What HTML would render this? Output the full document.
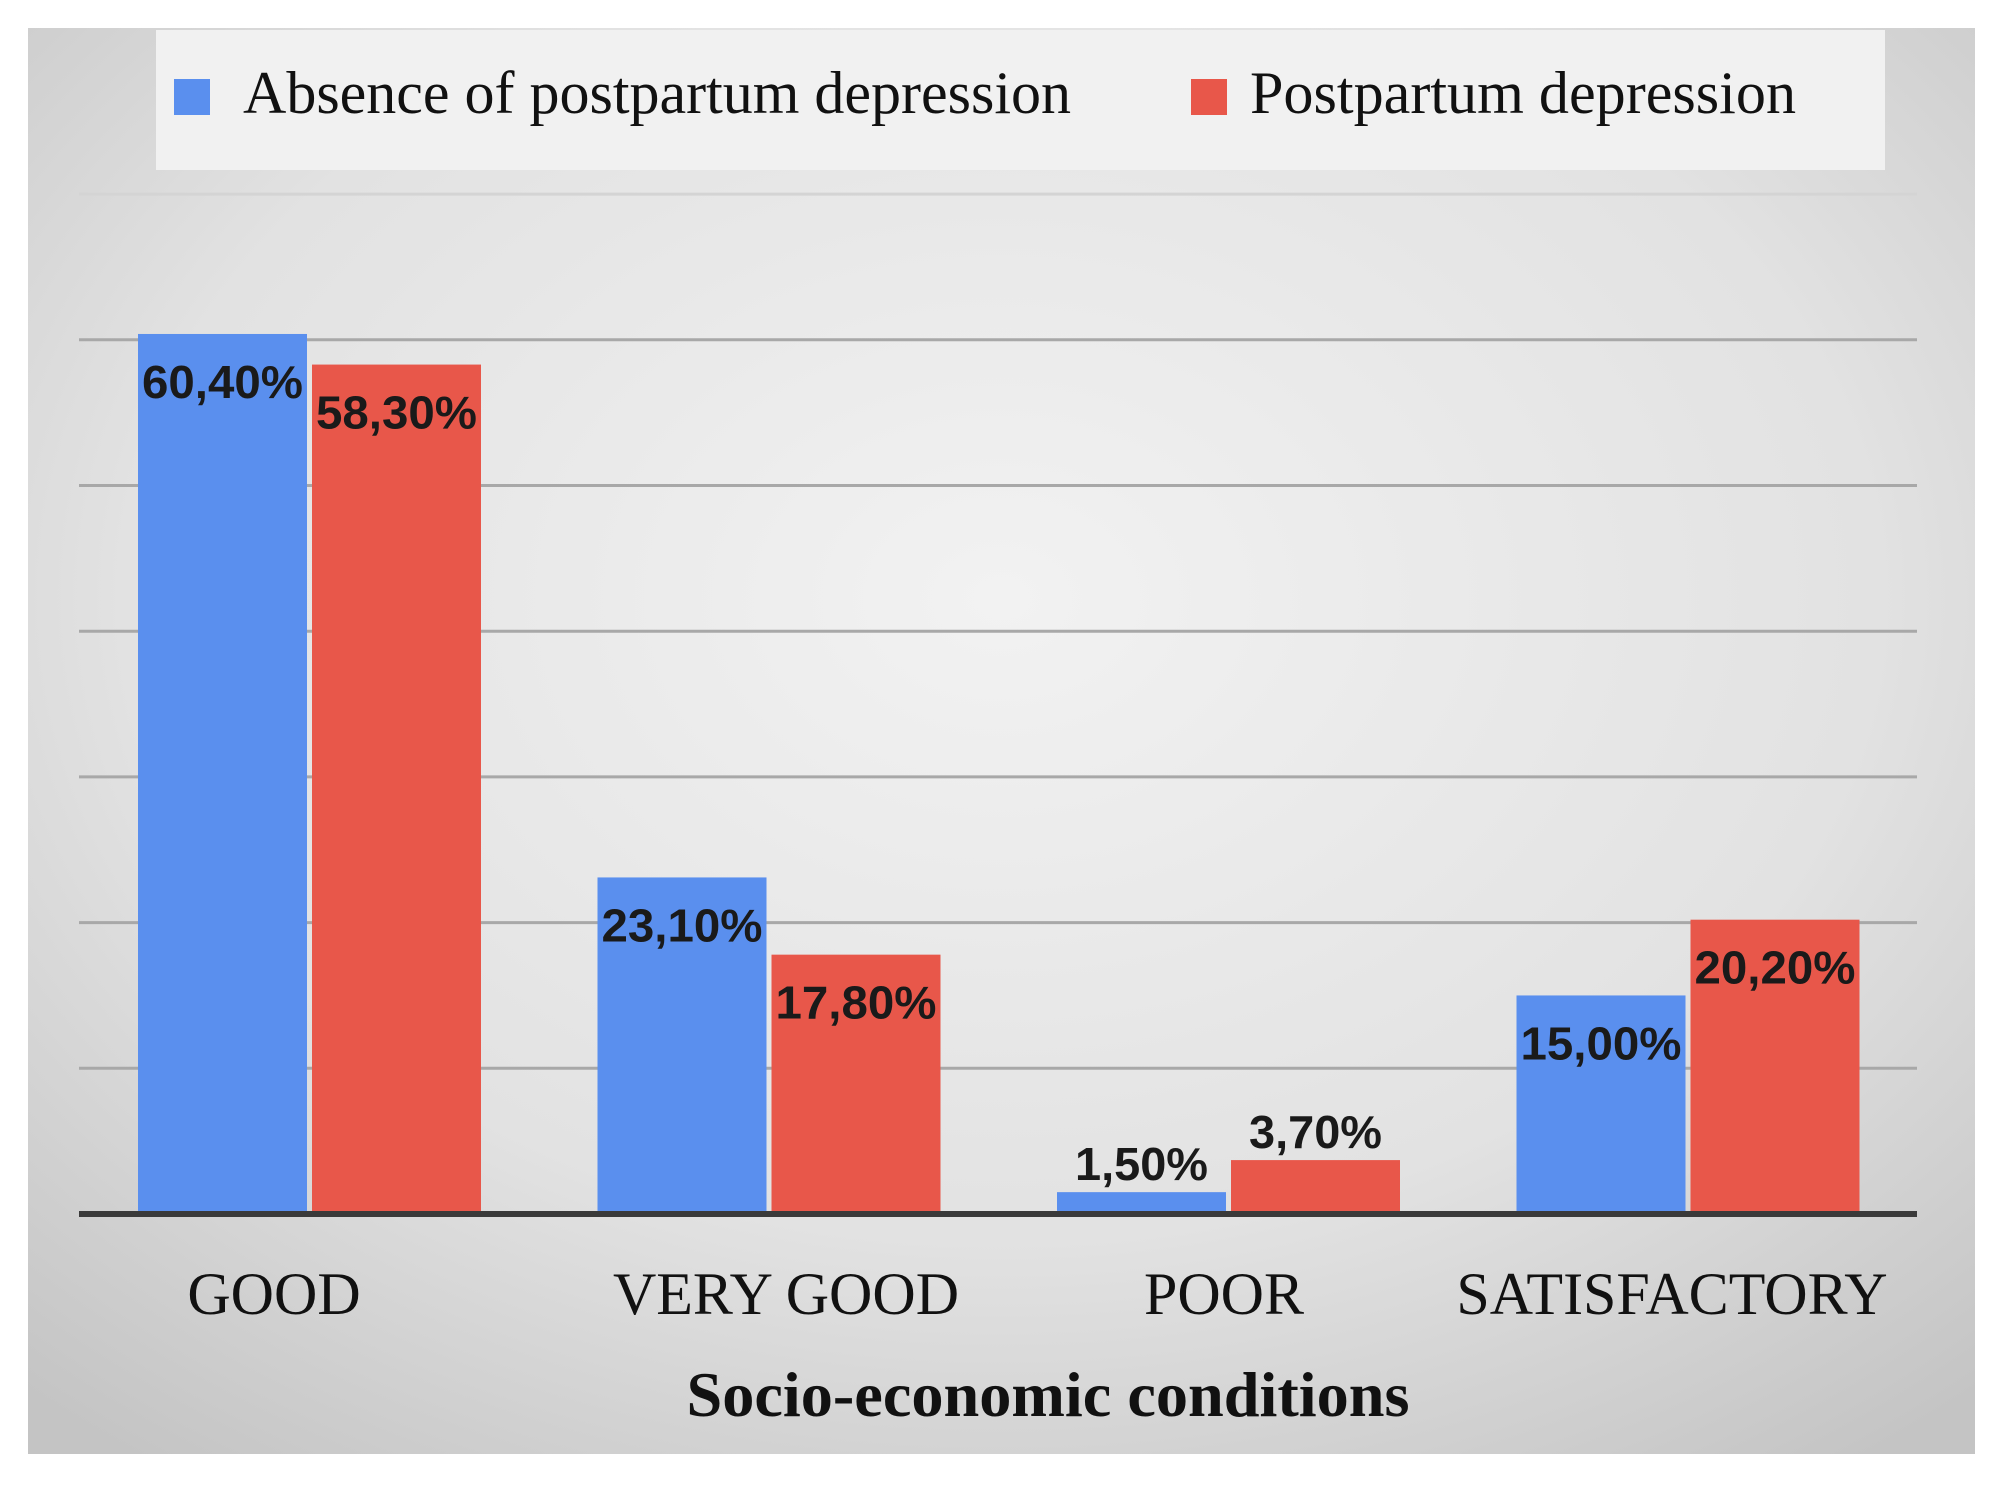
<!DOCTYPE html>
<html><head><meta charset="utf-8"><style>
html,body{margin:0;padding:0;background:#fff;}
svg{display:block;}
</style></head><body>
<svg id="chart" width="2004" height="1489" xmlns="http://www.w3.org/2000/svg">
<defs>
<radialGradient id="bg" cx="50%" cy="40%" r="75%">
<stop offset="0" stop-color="#f2f2f2"/><stop offset="0.6" stop-color="#e2e2e2"/><stop offset="1" stop-color="#c4c4c4"/>
</radialGradient>
</defs>
<rect x="28" y="28" width="1947" height="1426" fill="url(#bg)"/>
<rect x="156" y="30" width="1729" height="140" fill="#f1f1f1"/>
<rect x="174" y="79" width="36" height="36" fill="#5a8fee"/>
<text x="243" y="113" font-family="Liberation Serif, serif" font-size="60" fill="#111" textLength="828" lengthAdjust="spacingAndGlyphs">Absence of postpartum depression</text>
<rect x="1191" y="79" width="36" height="36" fill="#e8574a"/>
<text x="1250" y="113" font-family="Liberation Serif, serif" font-size="60" fill="#111" textLength="546" lengthAdjust="spacingAndGlyphs">Postpartum depression</text>
<g id="grid"></g>
<g id="bars"></g>
<g id="labels"></g>
<line x1="79" y1="1214" x2="1917" y2="1214" stroke="#3a3a3a" stroke-width="6"/>
<g id="cats"></g>
<text x="1048" y="1416" text-anchor="middle" font-family="Liberation Serif, serif" font-weight="bold" font-size="64" fill="#111" textLength="723" lengthAdjust="spacingAndGlyphs">Socio-economic conditions</text>
</svg>
<script>
const categories = ["GOOD", "VERY GOOD", "POOR", "SATISFACTORY"];
const absenceValues = [60.4, 23.1, 1.5, 15.0];
const depressionValues = [58.3, 17.8, 3.7, 20.2];
const absenceLabels = ["60,40%", "23,10%", "1,50%", "15,00%"];
const depressionLabels = ["58,30%", "17,80%", "3,70%", "20,20%"];
const gridTicks = [10, 20, 30, 40, 50, 60, 70];

const NS = "http://www.w3.org/2000/svg";
const plotLeft = 79, plotRight = 1917, baseY = 1214, pxPer = 14.57;
const catW = (plotRight - plotLeft) / categories.length;
const barW = 169;
function y(v){ return baseY - v * pxPer; }
function catX(i){ return plotLeft + i * catW; }
function mk(tag, attrs, parent){ const e = document.createElementNS(NS, tag); for (const k in attrs) e.setAttribute(k, attrs[k]); parent.appendChild(e); return e; }

const grid = document.getElementById('grid');
gridTicks.forEach(t => {
  const l = mk('line', {x1: plotLeft, x2: plotRight, y1: y(t), y2: y(t), stroke: t === 70 ? '#d4d4d4' : '#a8a8a8', 'stroke-width': 3}, grid);
  
  
});

const bars = document.getElementById('bars');
const labels = document.getElementById('labels');
const series = [
  {vals: absenceValues, labs: absenceLabels, color: '#5a8fee', off: 59, name: 'absence'},
  {vals: depressionValues, labs: depressionLabels, color: '#e8574a', off: 233, name: 'depression'}
];
series.forEach(s => {
  s.vals.forEach((v, i) => {
    const x = catX(i) + s.off;
    const r = mk('rect', {x: x, y: y(v), width: barW, height: baseY - y(v), fill: s.color}, bars);
    
    
    const small = (baseY - y(v)) < 80;
    const ty = small ? y(v) - 12 : y(v) + 64;
    const t = mk('text', {x: x + barW / 2, y: ty, 'text-anchor': 'middle', 'font-family': 'Liberation Sans, sans-serif', 'font-weight': 'bold', 'font-size': 46, fill: '#1a1a1a', textLength: s.labs[i].length > 5 ? 161 : 133, lengthAdjust: 'spacingAndGlyphs'}, labels);
    t.textContent = s.labs[i];
    
    
  });
});

const cats = document.getElementById('cats');
const catCenters = [274, 786, 1224, 1672];
categories.forEach((c, i) => {
  const t = mk('text', {x: catCenters[i], y: 1314, 'text-anchor': 'middle', 'font-family': 'Liberation Serif, serif', 'font-size': 60, fill: '#111'}, cats);
  t.textContent = c;
  
  
});
</script>
</body></html>
